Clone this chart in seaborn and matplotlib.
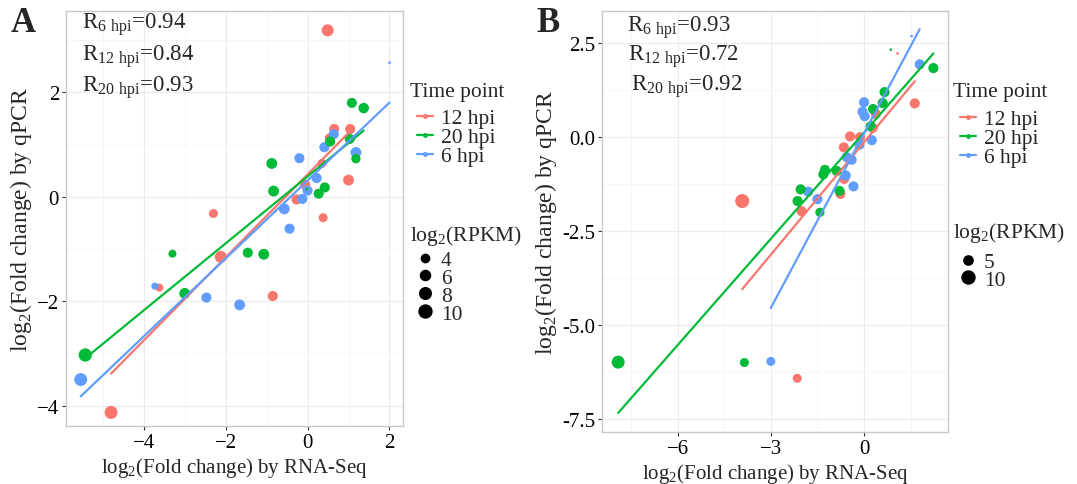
import matplotlib
matplotlib.use("Agg")
import matplotlib.pyplot as plt
from matplotlib.lines import Line2D
from matplotlib.ticker import MultipleLocator, FormatStrFormatter
import seaborn as sns
import pandas as pd
import numpy as np

# ---- data, panel A ----
a_time = (["12 hpi"] * 14) + (["6 hpi"] * 14) + (["20 hpi"] * 15)
a_rnaseq = [0.49, 0.65, 1.04, 0.54, 0.35, 1.00, -0.06, -0.27, 0.38, -2.30, -2.12, -3.62, -0.85, -4.80,
            2.00, 0.64, 0.41, 1.18, -0.20, 0.22, 0.00, -0.13, -0.57, -0.44, -3.73, -2.47, -1.66, -5.54,
            1.08, 1.37, 0.55, 1.03, 1.18, -0.875, -0.02, 0.42, 0.27, -0.83, -3.30, -1.46, -1.07, -3.00, -5.43]
a_qpcr = [3.19, 1.30, 1.30, 1.12, 0.64, 0.32, 0.23, -0.05, -0.40, -0.32, -1.15, -1.74, -1.90, -4.13,
          2.57, 1.20, 0.95, 0.85, 0.74, 0.36, 0.12, -0.04, -0.23, -0.61, -1.71, -1.93, -2.07, -3.50,
          1.80, 1.70, 1.06, 1.11, 0.73, 0.64, 0.15, 0.18, 0.06, 0.11, -1.09, -1.07, -1.10, -1.85, -3.03]
a_rpkm = [8.5, 6, 6, 6, 4.7, 7, 6, 6, 4.7, 4.7, 8.5, 3.7, 6, 10,
          0.2, 6, 6, 7, 6, 6, 6, 6, 7, 6, 2.8, 6, 7, 10,
          6, 6.5, 6, 6, 5, 7, 0.2, 6, 6, 7, 3.7, 6, 7, 7, 10.5]

# ---- data, panel B ----
b_time = (["12 hpi"] * 12) + (["6 hpi"] * 14) + (["20 hpi"] * 15)
b_rnaseq = [1.08, 1.63, 0.38, 0.28, -0.45, -0.13, -0.65, -0.64, -0.76, -3.92, -2.01, -2.15,
            1.53, 1.79, 0.00, -0.05, 0.02, 0.25, -0.15, -0.56, -0.40, -0.59, -0.34, -1.80, -1.50, -3.00,
            0.86, 2.23, 0.66, 0.60, 0.29, 0.21, -1.26, -1.31, -0.88, -0.79, -2.04, -2.14, -1.42, -7.91, -3.85]
b_qpcr = [2.23, 0.90, 0.62, 0.25, 0.02, 0.00, -0.27, -1.11, -1.51, -1.70, -1.97, -6.42,
          2.69, 1.94, 0.93, 0.68, 0.56, -0.08, -0.20, -0.53, -0.60, -1.02, -1.31, -1.45, -1.65, -5.97,
          2.33, 1.84, 1.20, 0.91, 0.75, 0.29, -0.87, -0.99, -0.90, -1.43, -1.39, -1.70, -2.00, -5.99, -6.00]
b_rpkm = [0.2, 6, 6, 6, 6, 6, 6, 6, 6, 11.8, 6, 4.7,
          0.2, 6, 6, 6, 6, 6, 6, 6, 6, 6, 6, 6, 6, 4.7,
          0.2, 6, 6, 6, 6, 6, 6, 6, 6, 6, 6, 6, 5, 10, 4.7]

hue_order = ["12 hpi", "20 hpi", "6 hpi"]
palette = {"12 hpi": "#F8766D", "20 hpi": "#00BA38", "6 hpi": "#619CFF"}

a_labels = [r"R$_{\mathregular{6\ hpi}}$=0.94", r"R$_{\mathregular{12\ hpi}}$=0.84", r"R$_{\mathregular{20\ hpi}}$=0.93"]
b_labels = [r"R$_{\mathregular{6\ hpi}}$=0.93", r"R$_{\mathregular{12\ hpi}}$=0.72", r"R$_{\mathregular{20\ hpi}}$=0.92"]

df_a = pd.DataFrame({"time": a_time, "rnaseq": a_rnaseq, "qpcr": a_qpcr, "rpkm": a_rpkm})
df_b = pd.DataFrame({"time": b_time, "rnaseq": b_rnaseq, "qpcr": b_qpcr, "rpkm": b_rpkm})

sns.set_style("white")
plt.rcParams["font.family"] = ["Liberation Serif", "DejaVu Serif"]

size_range = (2, 104)
size_norm = (0, 12)
W, H = 1077, 485
LEG_FS = 15.5


def size_to_ms(v):
    s = size_range[0] + (size_range[1] - size_range[0]) * v / size_norm[1]
    return np.sqrt(s)


fig = plt.figure(figsize=(10.77, 4.85), dpi=100)
ax_a = fig.add_axes([66 / W, 1 - 427 / H, 337 / W, 415 / H])
ax_b = fig.add_axes([602 / W, 1 - 433 / H, 346 / W, 421 / H])


def draw_panel(ax, df, xlim, ylim, xmaj, ymaj, yfmt):
    for t in hue_order:
        sub = df[df["time"] == t]
        sns.regplot(data=sub, x="rnaseq", y="qpcr", scatter=False, ci=None, truncate=True,
                    color=palette[t], line_kws={"lw": 1.6, "zorder": 3}, ax=ax)
    sns.scatterplot(data=df, x="rnaseq", y="qpcr", hue="time", hue_order=hue_order, palette=palette,
                    size="rpkm", sizes=size_range, size_norm=size_norm, linewidth=0, alpha=1,
                    legend=False, zorder=2, ax=ax)
    ax.set_xlim(*xlim)
    ax.set_ylim(*ylim)
    ax.xaxis.set_major_locator(MultipleLocator(xmaj))
    ax.xaxis.set_minor_locator(MultipleLocator(xmaj / 2))
    ax.yaxis.set_major_locator(MultipleLocator(ymaj))
    ax.yaxis.set_minor_locator(MultipleLocator(ymaj / 2))
    if yfmt:
        ax.yaxis.set_major_formatter(FormatStrFormatter(yfmt))
    ax.grid(which="major", color="#EBEBEB", lw=0.8)
    ax.grid(which="minor", color="#F5F5F5", lw=0.6)
    ax.set_axisbelow(True)
    for sp in ax.spines.values():
        sp.set_color("#C8C8C8")
        sp.set_linewidth(1.0)
    ax.tick_params(which="major", length=3, width=0.8, color="#333333", labelsize=15, labelcolor="black",
                   bottom=True, left=True, pad=2)
    ax.tick_params(which="minor", length=0)
    ax.set_xlabel(r"log$_{\mathregular{2}}$(Fold change) by RNA-Seq", fontsize=15, labelpad=2)
    ax.set_ylabel(r"log$_{\mathregular{2}}$(Fold change) by qPCR", fontsize=17, labelpad=2)


draw_panel(ax_a, df_a, (-5.9, 2.33), (-4.39, 3.56), 2, 2, None)
draw_panel(ax_b, df_b, (-8.43, 2.7), (-7.85, 3.36), 3, 2.5, "%.1f")

for lbl, y in zip(a_labels, [0.959, 0.882, 0.808]):
    ax_a.text(0.047, y, lbl, transform=ax_a.transAxes, fontsize=16.5, va="baseline", ha="left")
for lbl, y, x in zip(b_labels, [0.953, 0.884, 0.813], [0.073, 0.076, 0.084]):
    ax_b.text(x, y, lbl, transform=ax_b.transAxes, fontsize=16.5, va="baseline", ha="left")

fig.text(0.010, 0.985, "A", fontsize=25, fontweight="bold", va="top", ha="left")
fig.text(0.498, 0.985, "B", fontsize=25, fontweight="bold", va="top", ha="left")


def add_legends(ax, size_vals, x_title, x_keys, y_title1, y_top1, y_title2, y_top2):
    fig.text(x_title / W, 1 - y_title1 / H, "Time point", fontsize=LEG_FS, va="center", ha="left")
    fig.text(x_title / W, 1 - y_title2 / H, r"log$_{\mathregular{2}}$(RPKM)", fontsize=LEG_FS,
             va="center", ha="left")
    time_handles = [Line2D([0], [0], color=palette[t], lw=1.6, marker="o", markersize=2.5) for t in hue_order]
    leg1 = ax.legend(time_handles, hue_order, loc="upper left",
                     bbox_to_anchor=(x_keys / W, 1 - y_top1 / H), bbox_transform=fig.transFigure, frameon=False,
                     fontsize=LEG_FS, handlelength=0.75, handletextpad=0.35,
                     labelspacing=-0.05, borderaxespad=0, borderpad=0)
    ax.add_artist(leg1)
    size_handles = [Line2D([0], [0], color="black", lw=0, marker="o", markersize=size_to_ms(v))
                    for v in size_vals]
    ax.legend(size_handles, [str(v) for v in size_vals],
              loc="upper left", bbox_to_anchor=(x_keys / W, 1 - y_top2 / H), bbox_transform=fig.transFigure,
              frameon=False, fontsize=LEG_FS, handlelength=0.75, handletextpad=0.35,
              labelspacing=-0.1, borderaxespad=0, borderpad=0)


add_legends(ax_a, [4, 6, 8, 10], 410, 417, 93, 109, 236, 251)
add_legends(ax_b, [5, 10], 953, 960, 93, 110, 233, 253)

fig.savefig("out.png", dpi=100)
